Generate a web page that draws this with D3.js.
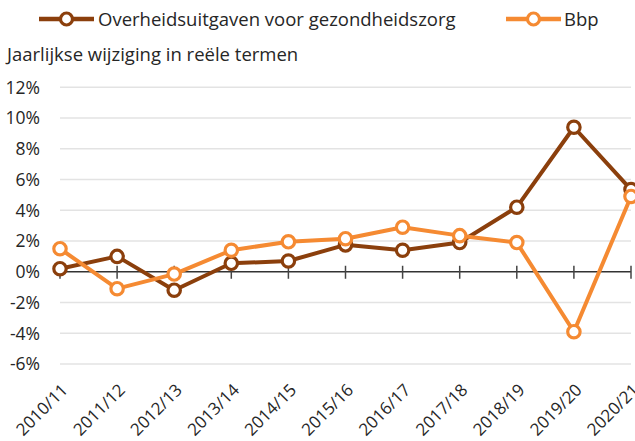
<!DOCTYPE html>
<html><head><meta charset="utf-8">
<script src="https://cdn.jsdelivr.net/npm/d3@7"></script>
<style>
html,body{margin:0;padding:0;background:#fff;}
svg text{font-family:"Open Sans",sans-serif;fill:#262626;}
</style></head>
<body><svg id="c" width="635" height="441"></svg>
<script>
const categories = ["2010/11","2011/12","2012/13","2013/14","2014/15","2015/16","2016/17","2017/18","2018/19","2019/20","2020/21"];
const healthValues = [0.2, 1.0, -1.2, 0.55, 0.7, 1.75, 1.4, 1.9, 4.2, 9.4, 5.35];
const gdpValues = [1.5, -1.1, -0.15, 1.4, 1.95, 2.15, 2.9, 2.35, 1.9, -3.9, 4.9];
const yTicks = [-6, -4, -2, 0, 2, 4, 6, 8, 10, 12];
const seriesNames = ["Overheidsuitgaven voor gezondheidszorg", "Bbp"];
const seriesColors = ["#8B3F0C", "#F58A32"];
const yTitle = "Jaarlijkse wijziging in reële termen";

const svg = d3.select("#c");
const x = d3.scalePoint().domain(categories).range([60, 631]);
const y = d3.scaleLinear().domain([-6, 12]).range([364, 87.3]);

// gridlines
svg.append("g").selectAll("line").data(yTicks.filter(d => d !== 0)).join("line")
  .attr("x1", 60).attr("x2", 631)
  .attr("y1", d => y(d)).attr("y2", d => y(d))
  .attr("stroke", "#e3e3e3").attr("stroke-width", 1.5);

// y labels
svg.append("g").selectAll("text").data(yTicks).join("text")
  .attr("x", 40).attr("y", d => y(d)).attr("dy", "0.36em")
  .attr("text-anchor", "end").attr("font-size", 17.5)
  .text(d => d + "%");

// zero axis with crossing ticks
const zero = y(0);
svg.append("line").attr("x1", 60).attr("x2", 631).attr("y1", zero).attr("y2", zero)
  .attr("stroke", "#333").attr("stroke-width", 1.5);
svg.append("g").selectAll("line").data(categories).join("line")
  .attr("x1", d => x(d)).attr("x2", d => x(d))
  .attr("y1", zero - 6).attr("y2", zero + 7)
  .attr("stroke", "#444").attr("stroke-width", 1.5);

// x labels
svg.append("g").selectAll("text").data(categories).join("text")
  .attr("transform", d => `translate(${x(d) + 9},391) rotate(-45)`)
  .attr("text-anchor", "end").attr("font-size", 17)
  .text(d => d);

// title
svg.append("text").attr("x", 7).attr("y", 61).attr("font-size", 18.5).text(yTitle);

// series
const series = [healthValues, gdpValues];
const line = d3.line().x((d, i) => x(categories[i])).y(d => y(d));
series.forEach((vals, si) => {
  svg.append("path").datum(vals).attr("d", line)
    .attr("fill", "none").attr("stroke", seriesColors[si]).attr("stroke-width", 4)
    .attr("stroke-linejoin", "round");
});
series.forEach((vals, si) => {
  svg.append("g").selectAll("circle").data(vals).join("circle")
    .attr("cx", (d, i) => x(categories[i])).attr("cy", d => y(d))
    .attr("r", 6.2).attr("fill", "#fff")
    .attr("stroke", seriesColors[si]).attr("stroke-width", 3.2);
});

// legend
const legendItems = [{x0: 39, x1: 94, tx: 98}, {x0: 506, x1: 561, tx: 564}];
legendItems.forEach((li, i) => {
  const g = svg.append("g");
  g.append("line").attr("x1", li.x0).attr("x2", li.x1).attr("y1", 19).attr("y2", 19)
    .attr("stroke", seriesColors[i]).attr("stroke-width", 4.5);
  g.append("circle").attr("cx", (li.x0 + li.x1) / 2).attr("cy", 19).attr("r", 6)
    .attr("fill", "#fff").attr("stroke", seriesColors[i]).attr("stroke-width", 3.2);
  g.append("text").attr("x", li.tx).attr("y", 26).attr("font-size", 18.5).text(seriesNames[i]);
});
</script></body></html>
